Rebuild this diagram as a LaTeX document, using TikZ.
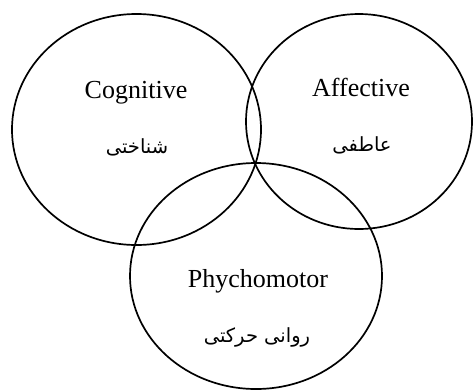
\documentclass[tikz,border=0pt]{standalone}
\usepackage{fontspec}
\setmainfont{Liberation Serif}
\newfontfamily\arabicfont[Script=Arabic]{DejaVu Sans}
\TeXXeTstate=1
\usetikzlibrary{shapes.geometric}
\begin{document}
\begin{tikzpicture}[x=1pt,y=-1pt,
  ring/.style={draw, ellipse, line width=1.7pt, inner sep=0pt},
  entext/.style={font=\fontsize{26}{30}\selectfont, inner sep=0pt, anchor=base},
  fatext/.style={font=\arabicfont\fontsize{19.5}{23}\selectfont, inner sep=0pt}]
\useasboundingbox (0,0) rectangle (473,389);
\node[ring, minimum width=249pt, minimum height=231pt] (cog) at (136.5,129.5) {};
\node[ring, minimum width=226pt, minimum height=215pt] (aff) at (359,121.5) {};
\node[ring, minimum width=252pt, minimum height=226pt] (psy) at (256,276) {};
\node[entext] (cogt) at (136,98) {Cognitive};
\node[entext] (afft) at (361,96) {Affective};
\node[entext] (psyt) at (258,287) {Phychomotor};
\node[fatext] (cogf) at (137,147) {\beginR شناختی\endR};
\node[fatext] (afff) at (362,145) {\beginR عاطفی\endR};
\node[fatext] (psyf) at (257,337) {\beginR روانی حرکتی\endR};
\end{tikzpicture}
\end{document}
